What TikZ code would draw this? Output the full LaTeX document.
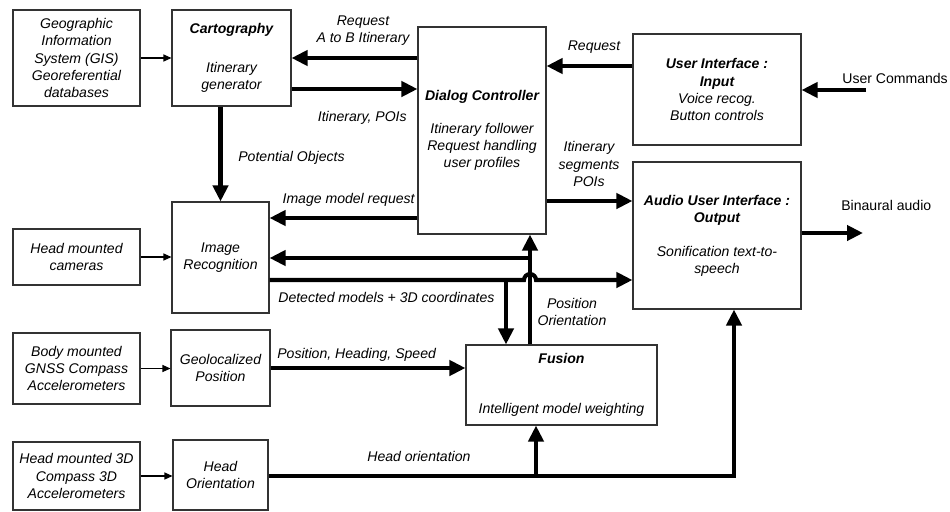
\documentclass[tikz,border=0pt]{standalone}
\usepackage{fontspec}
\setmainfont{Liberation Sans}
\usetikzlibrary{arrows.meta}
\tikzstyle{block}=[draw=black!80,line width=0.6pt,fill=white,align=center,inner sep=2pt,font=\fontsize{8}{9.7}\selectfont\itshape]
\tikzstyle{lbl}=[align=center,inner sep=0pt,font=\fontsize{8}{9.7}\selectfont\itshape]
\tikzstyle{plainlbl}=[align=center,inner sep=0pt,font=\fontsize{8}{9.7}\selectfont]
\tikzstyle{thinarrow}=[draw,line width=0.6pt,-{Triangle[length=0.16cm,width=0.14cm]}]
\tikzstyle{bigarrow}=[draw,line width=2.3pt,-{Triangle[length=0.32cm,width=0.3cm]}]

\begin{document}
\begin{tikzpicture}[x=0.02cm,y=-0.02cm]
    \useasboundingbox (0,0) rectangle (950,511);

    % First the sensor and data boxes on the left
    \foreach \pos/\name/\txt/\boxh in {{(76.5,58)/gis/{Geographic\\Information\\System (GIS)\\Georeferential\\databases}/1.92},
        {(76.5,257)/cams/{Head mounted\\cameras}/1.12},
        {(76.5,368.5)/body/{Body mounted\\GNSS Compass\\Accelerometers}/1.42},
        {(76.5,476)/hmtd/{Head mounted 3D\\Compass 3D\\Accelerometers}/1.36}}
        \node[block,minimum width=2.54cm,minimum height=\boxh cm] (\name) at \pos {\txt};

    % Then the processing boxes
    \node[block,minimum width=2.38cm,minimum height=1.92cm] (carto) at (231.5,58)
        {\textbf{Cartography}\\[12.5pt]Itinerary\\generator};
    \node[block,minimum width=1.94cm,minimum height=2.22cm] (imgrec) at (220.5,257.5)
        {Image\\Recognition};
    \node[block,minimum width=1.98cm,minimum height=1.52cm] (geoloc) at (220.5,368)
        {Geolocalized\\Position};
    \node[block,minimum width=1.9cm,minimum height=1.4cm] (heador) at (220.5,475)
        {Head\\Orientation};
    \node[block,minimum width=2.56cm,minimum height=4.14cm] (dialog) at (482,130.5)
        {\textbf{Dialog Controller}\\[9pt]Itinerary follower\\Request handling\\user profiles};
    \node[block,minimum width=3.82cm,minimum height=1.6cm] (fusion) at (561.5,385)
        {\textbf{Fusion}\\[19pt]Intelligent model weighting};
    \node[block,minimum width=3.36cm,minimum height=2.22cm] (uiin) at (717,89.5)
        {\textbf{User Interface :}\\\textbf{Input}\\Voice recog.\\Button controls};
    \node[block,minimum width=3.36cm,minimum height=2.94cm] (audio) at (717,235.5)
        {\textbf{Audio User Interface :}\\\textbf{Output}\\[9.6pt]Sonification text-to-\\speech};

    % Rows and branch points of the thick connectors
    \coordinate (itin) at (0,89);
    \coordinate (req) at (0,66);
    \coordinate (seg) at (0,201);
    \coordinate (imreq) at (0,218);
    \coordinate (posbr) at (530,258);
    \coordinate (hop) at (530,280);
    \coordinate (detbr) at (506,280);
    \coordinate (headbr) at (536,476);
    \coordinate (headup) at (734,476);
    \coordinate (cmdstart) at (866,90);
    \coordinate (binend) at (863,233);

    % Thin connectors from the sources
    \foreach \source/\dest in {gis/carto, cams/imgrec, body/geoloc, hmtd/heador}
        \path[thinarrow] (\source) -- (\source -| \dest.west);

    % Thick connectors
    \path[bigarrow] (dialog.west |- carto) -- (carto.east);
    \path[bigarrow] (carto.east |- itin) -- (dialog.west |- itin);
    \path[bigarrow] (carto.south -| imgrec) -- (imgrec.north);
    \path[bigarrow] (uiin.west |- req) -- (dialog.east |- req);
    \path[bigarrow] (cmdstart) -- (uiin.east |- cmdstart);
    \path[bigarrow] (dialog.east |- seg) -- (audio.west |- seg);
    \path[bigarrow] (dialog.west |- imreq) -- (imgrec.east |- imreq);
    \path[bigarrow] (fusion.north -| posbr) -- (dialog.south -| posbr);
    \path[bigarrow] (posbr) -- (imgrec.east |- posbr);
    \path[bigarrow] (imgrec.east |- hop) -- ([xshift=-0.12cm]hop)
        arc[start angle=180,end angle=0,radius=0.12cm] -- (audio.west |- hop);
    \path[bigarrow] (detbr) -- (fusion.north -| detbr);
    \path[bigarrow] (geoloc) -- (fusion.west |- geoloc);
    \path[bigarrow] (heador.east |- headup) -| (audio.south -| headup);
    \path[bigarrow] (headbr) -- (fusion.south -| headbr);
    \path[bigarrow] (audio.east |- binend) -- (binend);

    % Connector labels
    \node[lbl] (lreqab) at (363,31) {Request\\A to B Itinerary};
    \node[lbl,anchor=east] (litin) at (407,118) {Itinerary, POIs};
    \node[lbl,anchor=west] (lpot) at (238,158) {Potential Objects};
    \node[lbl] (lreq) at (594,47) {Request};
    \node[plainlbl,anchor=west] (lcmd) at (842,78) {User Commands};
    \node[lbl] (lseg) at (589,164) {Itinerary\\segments\\POIs};
    \node[lbl,anchor=east] (limreq) at (415,200) {Image model request};
    \node[lbl,anchor=west] (ldet) at (278,297) {Detected models + 3D coordinates};
    \node[lbl] (lpos) at (572,312) {Position\\Orientation};
    \node[lbl,anchor=west] (lphs) at (277,355) {Position, Heading, Speed};
    \node[lbl,anchor=west] (lhead) at (367,456) {Head orientation};
    \node[plainlbl,anchor=west] (lbin) at (841,205) {Binaural audio};

\end{tikzpicture}
\end{document}
